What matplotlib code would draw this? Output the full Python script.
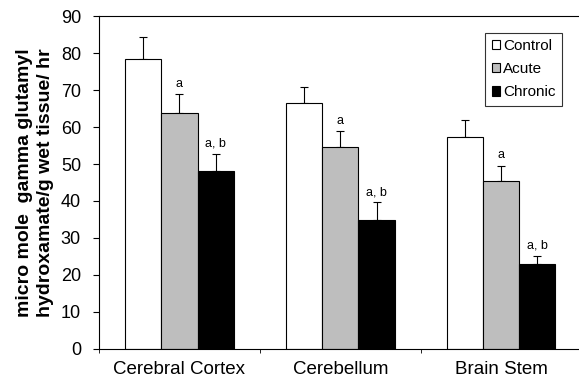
import matplotlib
matplotlib.use("Agg")
import matplotlib.pyplot as plt
import numpy as np

regions = ["Cerebral Cortex", "Cerebellum", "Brain Stem"]
groups = ["Control", "Acute", "Chronic"]
means = {
    "Control": [78.5, 66.6, 57.4],
    "Acute": [63.9, 54.6, 45.3],
    "Chronic": [48.1, 34.9, 22.9],
}
errors = {
    "Control": [5.8, 4.2, 4.5],
    "Acute": [4.9, 4.3, 4.2],
    "Chronic": [4.5, 4.7, 2.3],
}
marks = {"Control": "", "Acute": "a", "Chronic": "a, b"}
colors = {"Control": "white", "Acute": "#bebebe", "Chronic": "black"}

plt.rcParams["font.family"] = ["Liberation Sans", "DejaVu Sans"]

fig = plt.figure(figsize=(5.79, 3.82), dpi=100)
ax = fig.add_axes([0.171, 0.0864, 0.834, 0.8717])

x = np.arange(len(regions))
width = 0.224
for i, g in enumerate(groups):
    pos = x + (i - 1) * width
    ax.bar(pos, means[g], width, color=colors[g], edgecolor="black",
           linewidth=0.8, label=g, zorder=2)
    ax.errorbar(pos, means[g], yerr=[np.zeros(3), errors[g]], fmt="none",
                ecolor="black", elinewidth=0.8, capsize=3, capthick=0.8, zorder=1)
    if marks[g]:
        for p, m, e in zip(pos, means[g], errors[g]):
            ax.text(p, m + e + 1.2, marks[g], ha="center", va="bottom", fontsize=9)

ax.set_xlim(-0.5, 2.5)
ax.set_ylim(0, 90)
ax.set_yticks(range(0, 91, 10))
ax.set_xticks(x)
ax.set_xticklabels(regions, fontsize=13.5)
ax.set_xticks([-0.5, 0.5, 1.5], minor=True)
ax.tick_params(axis="x", which="major", length=0, pad=9)
ax.tick_params(axis="x", which="minor", length=3, direction="out")
ax.tick_params(axis="y", labelsize=13, length=4, direction="out", pad=9)
for s in ax.spines.values():
    s.set_linewidth(0.8)
ax.set_ylabel("micro mole  gamma glutamyl\nhydroxamate/g wet tissue/ hr",
              fontsize=14, fontweight="bold", labelpad=5, linespacing=1.3)

leg = ax.legend(loc="upper right", bbox_to_anchor=(0.958, 0.949), fontsize=11,
                frameon=True, fancybox=False, edgecolor="black",
                handlelength=0.55, handleheight=0.55, handletextpad=0.2,
                borderpad=0.4, labelspacing=0.6, borderaxespad=0)
leg.get_frame().set_linewidth(0.8)

fig.savefig("out.png", dpi=100)
